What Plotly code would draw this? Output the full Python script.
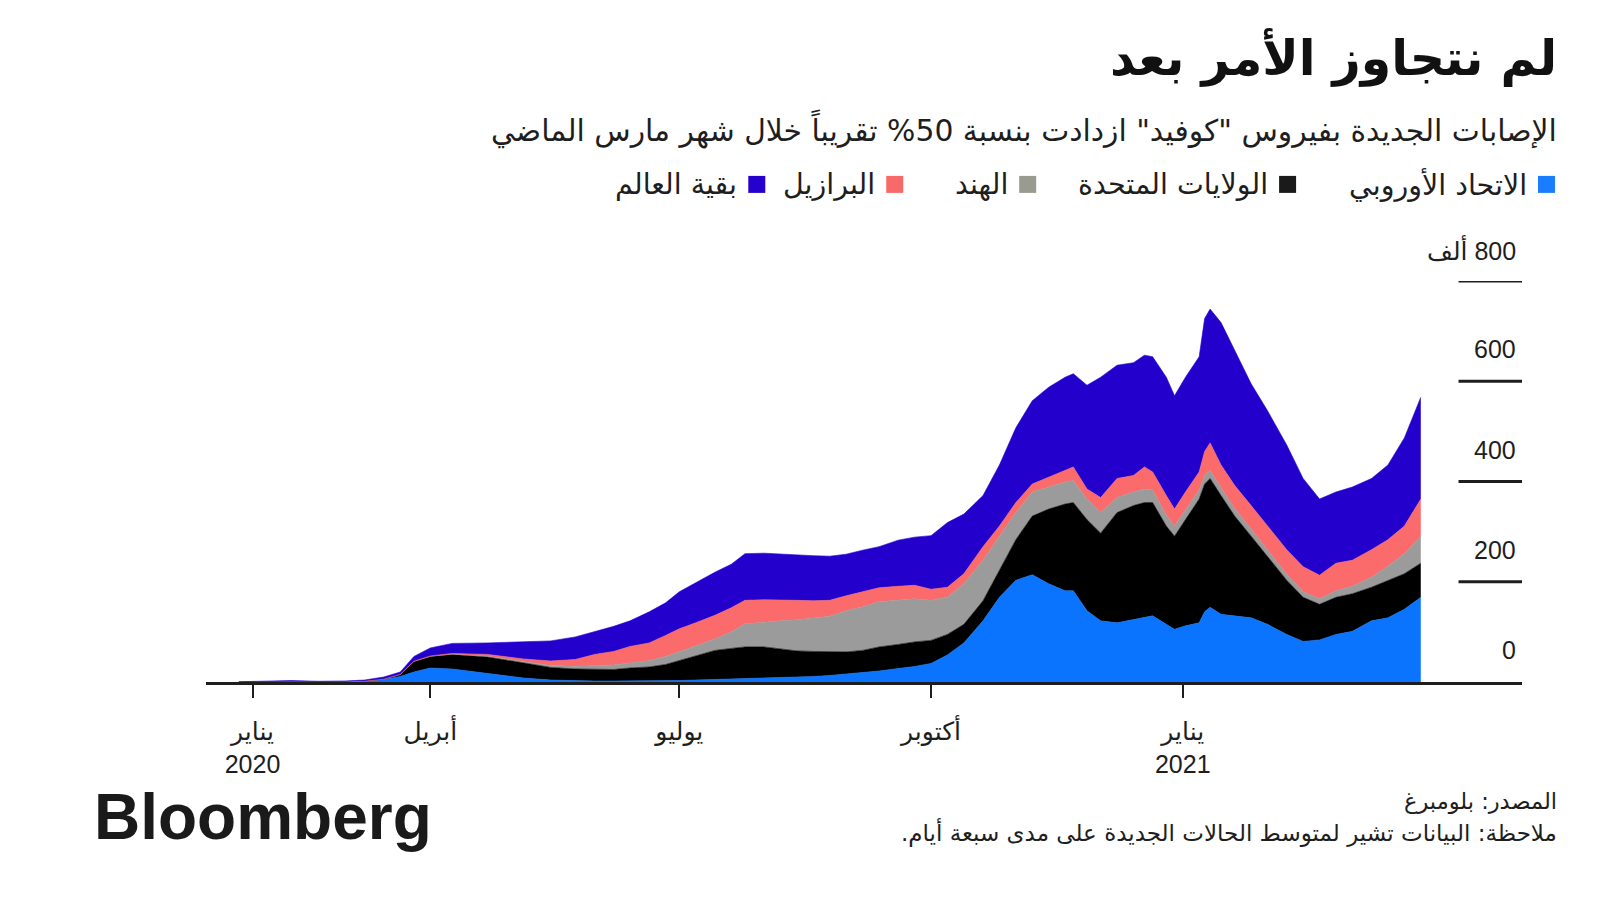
import plotly.graph_objects as go

# ---------------- data (thousands of new cases, 7-day average) ----------------
dates = [
    "2020-01-22", "2020-02-01", "2020-02-10", "2020-02-20", "2020-03-01", "2020-03-08", "2020-03-15", "2020-03-21", "2020-03-26", "2020-04-01",
    "2020-04-09", "2020-04-22", "2020-05-05", "2020-05-15", "2020-05-24", "2020-05-31", "2020-06-07", "2020-06-13", "2020-06-20", "2020-06-26",
    "2020-07-01", "2020-07-07", "2020-07-14", "2020-07-20", "2020-07-25", "2020-08-01", "2020-08-07", "2020-08-13", "2020-08-19", "2020-08-25",
    "2020-08-31", "2020-09-06", "2020-09-12", "2020-09-19", "2020-09-25", "2020-10-01", "2020-10-07", "2020-10-13", "2020-10-20", "2020-10-26",
    "2020-11-01", "2020-11-07", "2020-11-13", "2020-11-19", "2020-11-22", "2020-11-27", "2020-12-02", "2020-12-08", "2020-12-14", "2020-12-18",
    "2020-12-21", "2020-12-26", "2020-12-29", "2021-01-02", "2021-01-07", "2021-01-09", "2021-01-11", "2021-01-15", "2021-01-20", "2021-01-26",
    "2021-02-01", "2021-02-08", "2021-02-14", "2021-02-20", "2021-02-26", "2021-03-04", "2021-03-11", "2021-03-17", "2021-03-23", "2021-03-29",
]
eu = [
    0, 0, 0, 0, 0.3, 1.5, 5, 11, 20, 28,
    26, 17, 8, 4, 2.5, 2, 2, 2, 2, 2.5,
    3, 4, 5, 6, 7, 8, 9, 10, 11, 13,
    16, 19, 22, 27, 31, 37, 54, 78, 122, 169,
    203, 214, 196, 182, 182, 142, 122, 118, 125, 130,
    132, 115, 105, 112, 118, 140, 149, 135, 132, 128,
    115, 95, 81, 84, 95, 101, 122, 128, 145, 169,
]
us = [
    0, 0, 0, 0, 0, 0.1, 0.5, 4, 21, 23,
    29, 33, 30, 25, 23.5, 23, 23, 26, 28, 32.5,
    40, 48, 58, 61, 63, 62, 57, 52, 50, 47,
    44, 44, 48, 48, 49, 46, 41, 37, 40, 54,
    81, 117, 149, 173, 176, 182, 175, 220, 227, 228,
    226, 196, 186, 212, 247, 255, 257, 237, 199, 163,
    135, 108, 88, 71, 74, 75, 67, 75, 71, 68,
]
india = [
    0, 0, 0, 0, 0, 0, 0, 0, 0.1, 0.3,
    0.6, 1.5, 2.5, 4, 5.5, 7, 9, 10, 13, 16,
    17, 20, 23, 33, 46, 50, 56, 62, 66, 71,
    82, 87, 90, 88, 86, 80, 74, 81, 81, 68,
    54, 48, 44, 44, 44, 41, 41, 30, 27, 27,
    25, 22, 20, 20, 18, 17, 16, 16, 15, 14,
    13, 12, 11, 11, 13, 15, 20, 28, 40, 54,
]
brazil = [
    0, 0, 0, 0, 0, 0, 0, 0.2, 0.4, 0.7,
    1.4, 3.5, 5.5, 9, 13.5, 23, 27, 33, 35, 42,
    46, 46, 47, 48, 47, 44, 42, 39, 35, 32,
    30, 30, 28, 28, 27, 22, 20, 20, 27, 20,
    20, 16, 20, 23, 27, 20, 30, 38, 33, 44,
    36, 39, 34, 35, 36, 48, 55, 45, 46, 47,
    48, 49, 50, 47, 55, 52, 55, 53, 55, 74,
]
rest = [
    0.5, 2, 3, 1.5, 1.7, 2.4, 4.5, 4.8, 9.5, 16,
    20, 23, 34, 40, 45, 45, 50, 51, 62, 65,
    74, 80, 86, 87, 93, 93, 91, 90, 90, 88,
    83, 83, 82, 92, 96, 107, 129, 119, 102, 122,
    149, 166, 179, 186, 186, 207, 240, 226, 225, 223,
    230, 236, 226, 229, 230, 265, 267, 284, 270, 243,
    230, 209, 176, 152, 142, 146, 142, 149, 176, 203,
]

series_names = ["الاتحاد الأوروبي", "الولايات المتحدة", "الهند", "البرازيل", "بقية العالم"]
area_colors = ["#0b74ff", "#000000", "#9b9b9b", "#fb6b6b", "#2300cc"]
legend_colors = ["#1a7cff", "#1a1a1a", "#999b90", "#f76a6a", "#2600cc"]

y_tick_vals = [0, 200, 400, 600, 800]
y_tick_text = ["0", "200", "400", "600", "800 ألف"]
x_tick_vals = ["2020-01-27", "2020-04-01", "2020-07-01", "2020-10-01", "2021-01-01"]
x_tick_text = ["يناير<br>2020", "أبريل", "يوليو", "أكتوبر", "يناير<br>2021"]

title_text = "لم نتجاوز الأمر بعد"
subtitle_text = "الإصابات الجديدة بفيروس \"كوفيد\" ازدادت بنسبة 50% تقريباً خلال شهر مارس الماضي"
source_text = "المصدر: بلومبرغ"
note_text = "ملاحظة: البيانات تشير لمتوسط الحالات الجديدة على مدى سبعة أيام."

# ---------------- layout helpers ----------------
W, H = 1600, 900
L_PX, R_PX, T_PX, B_PX = 206.0, 1522.5, 280.6, 681.6
INK = "#1e1e1e"
AR = "DejaVu Sans"
MIX = "Liberation Sans, DejaVu Sans"


def fx(px):
    return (px - L_PX) / (R_PX - L_PX)


def fy(py):
    return (B_PX - py) / (B_PX - T_PX)


def rtl(s):
    return "\u202b" + s + "\u202c"


fig = go.Figure()
for vals, name, color in zip([eu, us, india, brazil, rest], series_names, area_colors):
    fig.add_trace(go.Scatter(
        x=dates, y=vals, name=name, mode="lines", stackgroup="one",
        line=dict(width=0.6, color=color), fillcolor=color,
        showlegend=False, hoverinfo="skip",
    ))

shapes = []
annotations = []

# right-side value guides and labels
for v, t in zip(y_tick_vals, y_tick_text):
    if v > 0:
        shapes.append(dict(type="line", xref="paper", yref="y", x0=fx(1459), x1=1.0, y0=v, y1=v,
                           line=dict(color=INK, width=3), layer="above"))
    annotations.append(dict(xref="paper", yref="y", x=fx(1518), y=v, yshift=32,
                            xanchor="right", yanchor="middle", showarrow=False,
                            text=rtl(t), font=dict(family=MIX, size=25, color=INK)))

# legend (right-to-left)
legend_sq_x = [1547, 1288, 1028, 895, 757]
LEG_Y = 184
SQ = 17
for name, color, sx in zip(series_names, legend_colors, legend_sq_x):
    shapes.append(dict(type="rect", xref="paper", yref="paper",
                       x0=fx(sx - SQ / 2), x1=fx(sx + SQ / 2), y0=fy(LEG_Y + SQ / 2), y1=fy(LEG_Y - SQ / 2),
                       fillcolor=color, line=dict(width=0)))
    annotations.append(dict(xref="paper", yref="paper", x=fx(sx - SQ / 2 - 9), y=fy(LEG_Y),
                            xanchor="right", yanchor="middle", showarrow=False,
                            text=rtl(name), font=dict(family=AR, size=28.5, color=INK)))

# titles
annotations.append(dict(xref="paper", yref="paper", x=fx(1560), y=fy(58), xanchor="right", yanchor="middle",
                        showarrow=False, text="<b>" + rtl(title_text) + "</b>",
                        font=dict(family=AR, size=49, color="#111111")))
annotations.append(dict(xref="paper", yref="paper", x=fx(1560), y=fy(129), xanchor="right", yanchor="middle",
                        showarrow=False, text=rtl(subtitle_text),
                        font=dict(family=AR, size=29.8, color=INK)))
# footer
annotations.append(dict(xref="paper", yref="paper", x=fx(1560), y=fy(801), xanchor="right", yanchor="middle",
                        showarrow=False, text=rtl(source_text),
                        font=dict(family=AR, size=22.5, color=INK)))
annotations.append(dict(xref="paper", yref="paper", x=fx(1560), y=fy(832), xanchor="right", yanchor="middle",
                        showarrow=False, text=rtl(note_text),
                        font=dict(family=AR, size=23, color=INK)))
annotations.append(dict(xref="paper", yref="paper", x=fx(92), y=fy(817), xanchor="left", yanchor="middle",
                        showarrow=False, text="<b>Bloomberg</b>",
                        font=dict(family="Liberation Sans", size=64, color="#1a1a1a")))

fig.update_layout(
    width=W, height=H,
    margin=dict(l=L_PX, r=W - R_PX, t=T_PX, b=H - B_PX, pad=0),
    paper_bgcolor="white", plot_bgcolor="white",
    shapes=shapes, annotations=annotations,
    xaxis=dict(
        type="date", range=["2020-01-10", "2021-05-05"],
        showgrid=False, zeroline=False,
        showline=True, linewidth=3, linecolor=INK,
        ticks="outside", ticklen=13, tickwidth=1.5, tickcolor=INK,
        tickvals=x_tick_vals, ticktext=x_tick_text,
        tickfont=dict(family=MIX, size=25, color=INK),
        ticklabelstandoff=12,
        fixedrange=True,
    ),
    yaxis=dict(range=[0, 800], visible=False, fixedrange=True),
)

fig.write_html("out.html", config={"displayModeBar": False},
               post_script="document.body.style.margin='0';")
